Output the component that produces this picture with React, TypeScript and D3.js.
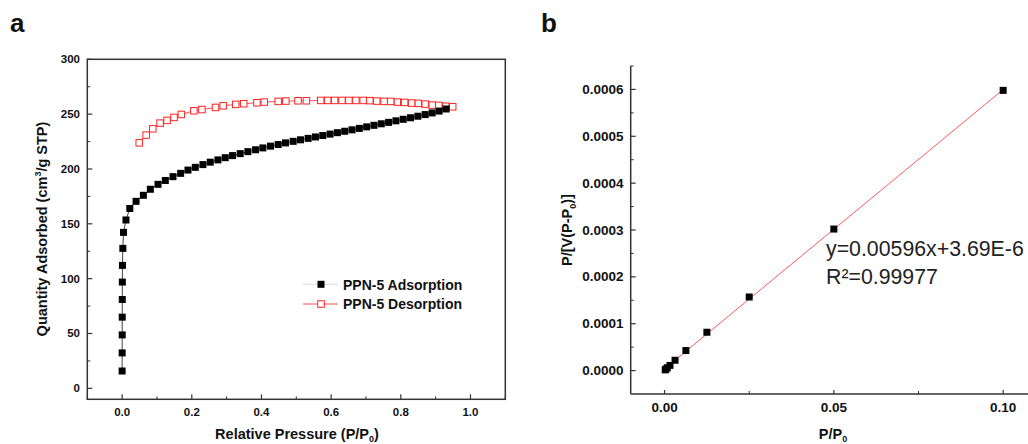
import React from "react";
import * as d3 from "d3";

// ---------- Panel a data ----------
const adsP = [0.0, 0.0001, 0.0002, 0.0003, 0.0004, 0.0006, 0.0009, 0.002, 0.004, 0.011, 0.022, 0.04, 0.061, 0.081, 0.103, 0.124, 0.146, 0.168, 0.189, 0.21, 0.232, 0.253, 0.275, 0.296, 0.317, 0.339, 0.361, 0.383, 0.404, 0.426, 0.448, 0.469, 0.491, 0.512, 0.534, 0.555, 0.576, 0.597, 0.618, 0.639, 0.66, 0.681, 0.702, 0.723, 0.744, 0.765, 0.786, 0.807, 0.828, 0.849, 0.87, 0.89, 0.91, 0.93];
const adsV = [15.8, 32.3, 48.7, 64.9, 81.0, 96.9, 112.1, 127.6, 142.2, 153.5, 164, 170.5, 176, 181.5, 186, 189.5, 193, 196, 199, 201.5, 204, 206.2, 208.3, 210.3, 212.2, 214, 215.8, 217.5, 219.2, 220.8, 222.3, 223.8, 225.2, 226.6, 227.9, 229.2, 230.5, 231.8, 233.1, 234.4, 235.7, 237, 238.4, 239.8, 241.2, 242.5, 243.9, 245.3, 246.7, 248.1, 249.6, 251.1, 252.8, 254.7];

const desP = [0.949, 0.929, 0.909, 0.89, 0.87, 0.85, 0.831, 0.811, 0.79, 0.771, 0.752, 0.731, 0.711, 0.692, 0.671, 0.651, 0.631, 0.61, 0.59, 0.57, 0.529, 0.505, 0.47, 0.448, 0.408, 0.387, 0.349, 0.326, 0.29, 0.268, 0.229, 0.206, 0.17, 0.149, 0.129, 0.109, 0.088, 0.069, 0.049];
const desV = [256.7, 257.2, 258, 258.2, 259.2, 259.8, 260.1, 260.7, 261, 261.6, 261.6, 261.9, 262.3, 262.5, 262.5, 262.5, 262.5, 262.5, 262.5, 262.5, 262.2, 262.2, 261.9, 261.6, 261, 260.4, 259.5, 258.9, 257.6, 256.1, 254.2, 253.1, 249.7, 247.0, 244.3, 241.8, 236.6, 230.9, 223.8];

const aXTicks = [0, 0.2, 0.4, 0.6, 0.8, 1.0];
const aXMinor = [-0.1, 0.1, 0.3, 0.5, 0.7, 0.9, 1.1];
const aYTicks = [0, 50, 100, 150, 200, 250, 300];
const aYMinor = [25, 75, 125, 175, 225, 275];
const legendLabels = ["PPN-5 Adsorption", "PPN-5 Desorption"];

// ---------- Panel b data ----------
const bP = [0.0002, 0.0004, 0.0008, 0.0016, 0.0031, 0.0063, 0.0125, 0.025, 0.05, 0.1];
const bY = [0.0000015, 0.000003, 0.000006, 0.000011, 0.000022, 0.0000427, 0.0000818, 0.000157, 0.000302, 0.000598];
const fitSlope = 0.00596;
const fitIntercept = 3.69e-6;
const bXTicks = [0, 0.05, 0.1];
const bXMinor = [0.025, 0.075];
const bYTicks = [0, 0.0001, 0.0002, 0.0003, 0.0004, 0.0005, 0.0006];
const bYMinor = [0.00005, 0.00015, 0.00025, 0.00035, 0.00045, 0.00055, 0.00065];

const FONT = "'Liberation Sans', Arial, sans-serif";
const AXIS = "#333";

export default function App() {
  // Panel a scales
  const ax = d3.scaleLinear().domain([-0.1, 1.1]).range([87.3, 505.3]);
  const ay = d3.scaleLinear().domain([-10, 300]).range([399.3, 59.3]);
  // Panel b scales
  const bx = d3.scaleLinear().domain([-0.01, 0.11]).range([630.7, 630.7 + 0.12 * 3386]);
  const by = d3.scaleLinear().domain([-0.00005, 0.00065]).range([394, 66]);

  const adsPts = adsP.map((p, i) => [p, adsV[i]] as [number, number]);
  const desPts = desP.map((p, i) => [p, desV[i]] as [number, number]);
  const lineA = d3.line<[number, number]>().x((d) => ax(d[0])).y((d) => ay(d[1]));
  const bPts = bP.map((p, i) => [p, bY[i]] as [number, number]);
  const fitX = [0, 0.1];

  const sq = 7;
  const osq = 6.5;
  const fmtB = (v: number) => (v === 0 ? "0.0000" : v.toFixed(4));

  return (
    <svg width={1028} height={444} style={{ position: "absolute", left: 0, top: 0, background: "#fff" }} fontFamily={FONT}>
      <rect x={0} y={0} width={1028} height={444} fill="#fff" />
      {/* Panel labels */}
      <text x={10} y={31.5} fontSize={26} fontWeight="bold" fill="#111">a</text>
      <text x={541} y={31.5} fontSize={26} fontWeight="bold" fill="#111">b</text>

      {/* ===== Panel a ===== */}
      <rect x={ax(-0.1)} y={ay(300)} width={ax(1.1) - ax(-0.1)} height={ay(-10) - ay(300)} fill="none" stroke={AXIS} strokeWidth={1.5} />
      {aXTicks.map((t) => (
        <g key={"axt" + t}>
          <line x1={ax(t)} x2={ax(t)} y1={ay(-10)} y2={ay(-10) - 5} stroke={AXIS} strokeWidth={1.2} />
          <text x={ax(t)} y={416} fontSize={11.5} fontWeight="bold" textAnchor="middle" fill="#111">{t.toFixed(1)}</text>
        </g>
      ))}
      {aXMinor.map((t) => (
        <line key={"axm" + t} x1={ax(t)} x2={ax(t)} y1={ay(-10)} y2={ay(-10) - 3} stroke={AXIS} strokeWidth={1} />
      ))}
      {aYTicks.map((t) => (
        <g key={"ayt" + t}>
          <line x1={ax(-0.1)} x2={ax(-0.1) + 5} y1={ay(t)} y2={ay(t)} stroke={AXIS} strokeWidth={1.2} />
          <text x={80} y={ay(t) + 4} fontSize={11.5} fontWeight="bold" textAnchor="end" fill="#111">{t}</text>
        </g>
      ))}
      {aYMinor.map((t) => (
        <line key={"aym" + t} x1={ax(-0.1)} x2={ax(-0.1) + 3} y1={ay(t)} y2={ay(t)} stroke={AXIS} strokeWidth={1} />
      ))}
      {/* axis titles */}
      <text x={297} y={439} fontSize={14.5} fontWeight="bold" textAnchor="middle" fill="#111">
        Relative Pressure (P/P<tspan dy={3} fontSize={9}>0</tspan><tspan dy={-3}>)</tspan>
      </text>
      <text transform={`translate(47,229) rotate(-90)`} fontSize={14.5} fontWeight="bold" textAnchor="middle" fill="#111">
        Quantity Adsorbed (cm<tspan dy={-6} fontSize={9}>3</tspan><tspan dy={6}>/g STP)</tspan>
      </text>

      {/* series lines */}
      <path d={lineA(desPts) || ""} fill="none" stroke="#ff5050" strokeWidth={1} />
      <path d={lineA(adsPts) || ""} fill="none" stroke="#444" strokeWidth={1} />
      {desPts.map((d, i) => (
        <rect key={"ds" + i} x={ax(d[0]) - osq / 2} y={ay(d[1]) - osq / 2} width={osq} height={osq} fill="#fff" stroke="#f22" strokeWidth={1} />
      ))}
      {adsPts.map((d, i) => (
        <rect key={"as" + i} x={ax(d[0]) - sq / 2} y={ay(d[1]) - sq / 2} width={sq} height={sq} fill="#000" />
      ))}

      {/* legend */}
      <line x1={303} x2={338} y1={284.3} y2={284.3} stroke="#ddd" strokeWidth={1} />
      <rect x={321 - sq / 2} y={284.3 - sq / 2} width={sq} height={sq} fill="#000" />
      <text x={343} y={289.5} fontSize={14} fontWeight="bold" fill="#111">{legendLabels[0]}</text>
      <line x1={303} x2={338} y1={304} y2={304} stroke="#ff5050" strokeWidth={1} />
      <rect x={321 - osq / 2} y={304 - osq / 2} width={osq} height={osq} fill="#fff" stroke="#f22" strokeWidth={1} />
      <text x={343} y={309.2} fontSize={14} fontWeight="bold" fill="#111">{legendLabels[1]}</text>

      {/* ===== Panel b ===== */}
      <line x1={bx(-0.01)} x2={bx(-0.01)} y1={by(0.00065)} y2={by(-0.00005)} stroke={AXIS} strokeWidth={1.5} />
      <line x1={bx(-0.01)} x2={1028} y1={by(-0.00005)} y2={by(-0.00005)} stroke={AXIS} strokeWidth={1.5} />
      {bYTicks.map((t) => (
        <g key={"byt" + t}>
          <line x1={bx(-0.01)} x2={bx(-0.01) + 5} y1={by(t)} y2={by(t)} stroke={AXIS} strokeWidth={1.2} />
          <text x={623.5} y={by(t) + 4.5} fontSize={13.5} fontWeight="bold" textAnchor="end" fill="#111">{fmtB(t)}</text>
        </g>
      ))}
      {bYMinor.map((t) => (
        <line key={"bym" + t} x1={bx(-0.01)} x2={bx(-0.01) + 3} y1={by(t)} y2={by(t)} stroke={AXIS} strokeWidth={1} />
      ))}
      {bXTicks.map((t) => (
        <g key={"bxt" + t}>
          <line x1={bx(t)} x2={bx(t)} y1={by(-0.00005)} y2={by(-0.00005) - 4} stroke={AXIS} strokeWidth={1.2} />
          <text x={bx(t)} y={411.5} fontSize={13.5} fontWeight="bold" textAnchor="middle" fill="#111">{t.toFixed(2)}</text>
        </g>
      ))}
      {bXMinor.map((t) => (
        <line key={"bxm" + t} x1={bx(t)} x2={bx(t)} y1={by(-0.00005)} y2={by(-0.00005) - 3} stroke={AXIS} strokeWidth={1} />
      ))}
      <text x={833} y={439} fontSize={14.5} fontWeight="bold" textAnchor="middle" fill="#111">
        P/P<tspan dy={3} fontSize={9}>0</tspan>
      </text>
      <text transform={`translate(572,230) rotate(-90)`} fontSize={14.5} fontWeight="bold" textAnchor="middle" fill="#111">
        P/[V(P-P<tspan dy={4} fontSize={9}>0</tspan><tspan dy={-4}>)]</tspan>
      </text>

      {/* fit line */}
      <line x1={bx(fitX[0])} y1={by(fitSlope * fitX[0] + fitIntercept)} x2={bx(fitX[1])} y2={by(fitSlope * fitX[1] + fitIntercept)} stroke="#ff5a5a" strokeWidth={1} />
      {bPts.map((d, i) => (
        <rect key={"bp" + i} x={bx(d[0]) - sq / 2} y={by(d[1]) - sq / 2} width={sq} height={sq} fill="#000" />
      ))}
      <text x={826} y={256} fontSize={21.3} fill="#222">y=0.00596x+3.69E-6</text>
      <text x={826} y={284} fontSize={21.3} fill="#222">R²=0.99977</text>
    </svg>
  );
}
